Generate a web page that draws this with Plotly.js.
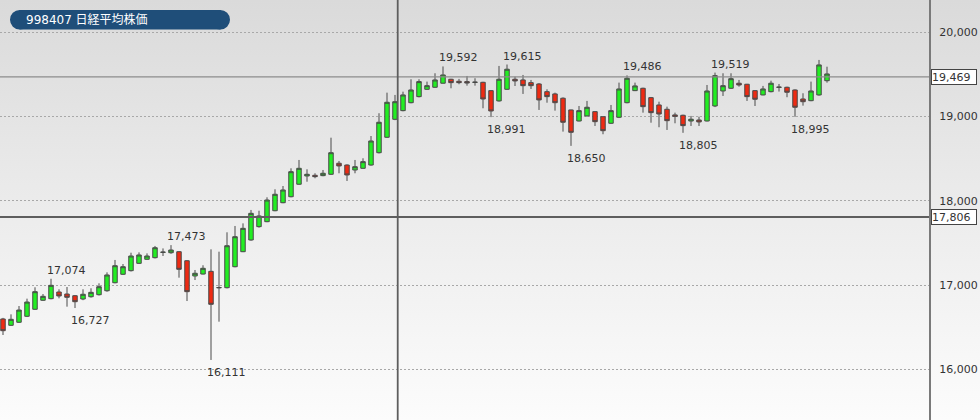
<!DOCTYPE html>
<html>
<head>
<meta charset="utf-8">
<script src="https://cdn.plot.ly/plotly-3.0.1.min.js"></script>
<style>
  html, body { margin: 0; padding: 0; }
  #chart { width: 980px; height: 420px; background: linear-gradient(to bottom, #dadada 0%, #ececec 50%, #fcfcfc 100%); }
</style>
</head>
<body>
<div id="chart"></div>
<script>
// ---- data ----
const titleText = "998407 日経平均株価";
const openV = [16597,16522,16558,16629,16712,16819,16838,16917,16893,16873,16834,16861,16885,16932,17027,17127,17170,17257,17305,17324,
  17386,17383,17395,17288,17107,17130,17162,16966,16968,17217,17395,17534,17692,17751,17881,17976,18047,18195,18293,18301,
  18297,18313,18444,18423,18364,18384,18423,18569,18752,18965,19068,19162,19234,19321,19345,19393,19440,19416,19412,19402,
  19404,19305,19183,19321,19440,19432,19400,19384,19293,19266,19215,19076,18945,19005,19056,18996,18918,18989,19162,19305,
  19333,19222,19135,19084,19017,19013,18945,18957,18945,19123,19301,19333,19393,19381,19305,19254,19293,19343,19345,19313,
  19206,19186,19254,19423];
const highV = [16610,16652,16751,16838,16973,16893,17074,16949,16976,16880,16949,16961,17020,17150,17297,17249,17383,17387,17375,17463,
  17434,17473,17400,17295,17178,17234,17423,17395,17625,17700,17731,17890,17881,18040,18135,18174,18384,18483,18372,18325,
  18364,18747,18471,18430,18483,18503,18767,19037,19281,19254,19293,19440,19440,19412,19511,19592,19445,19444,19479,19452,
  19410,19310,19598,19615,19471,19491,19432,19395,19321,19281,19225,19080,19123,19183,19060,19000,19135,19400,19486,19400,
  19340,19230,19174,19115,19044,19020,19005,18996,19372,19519,19511,19511,19432,19385,19310,19361,19423,19384,19352,19320,
  19274,19412,19669,19589];
const lowV = [16407,16515,16550,16620,16705,16812,16830,16842,16743,16727,16820,16850,16875,16920,17020,17120,17160,17250,17300,17315,
  17344,17370,17087,16810,17059,17125,16111,16565,16960,17210,17390,17525,17680,17745,17875,17970,18040,18190,18225,18266,
  18290,18305,18325,18234,18325,18380,18415,18560,18745,18955,19060,19155,19225,19315,19340,19390,19333,19381,19364,19364,
  19096,18991,19175,19315,19360,19266,19325,19076,19162,19068,18819,18650,18940,19000,18886,18788,18910,18980,19155,19300,
  19044,18925,18871,18839,18918,18805,18886,18886,18940,19110,19242,19325,19352,19183,19123,19250,19285,19294,19227,18995,
  19127,19180,19245,19400];
const closeV = [16458,16593,16703,16798,16921,16866,16996,16870,16854,16802,16890,16913,16980,17119,17229,17217,17344,17356,17344,17442,
  17390,17415,17186,16921,17139,17198,16771,16970,17466,17573,17672,17850,17819,18008,18076,18127,18344,18384,18313,18285,
  18325,18569,18412,18305,18403,18463,18708,18930,19167,19174,19254,19313,19412,19364,19432,19491,19400,19400,19396,19406,
  19206,19064,19440,19559,19420,19364,19364,19195,19234,19162,18930,18811,19068,19108,18937,18830,19068,19325,19452,19361,
  19115,19044,19028,18949,19001,18890,18966,18934,19301,19483,19364,19447,19372,19234,19203,19325,19393,19347,19286,19108,
  19174,19301,19610,19503];
const highLabelIdx = [6, 21, 55, 63, 78, 89];
const lowLabelIdx = [9, 26, 61, 71, 85, 99];
const yTickVals = [16000, 17000, 18000, 19000, 20000];
const lastPrice = 19469;
const crossPrice = 17806;
const crossIdx = 49.34;

// ---- build ----
const xIdx = openV.map((_, i) => i);
const fmt = v => v.toLocaleString('en-US');
const plotW = 929, plotH = 420;
const px = v => v / plotW;
const py = v => 1 - v / plotH;

const trace = {
  type: 'candlestick', x: xIdx, open: openV, high: highV, low: lowV, close: closeV,
  increasing: { line: { color: '#4a4a4a', width: 1 }, fillcolor: '#22ee22' },
  decreasing: { line: { color: '#4a4a4a', width: 1 }, fillcolor: '#ee2a12' },
  whiskerwidth: 0, hoverinfo: 'skip', showlegend: false
};

const labelFont = { family: 'DejaVu Sans, Verdana, sans-serif', size: 11, color: '#333' };
const annotations = [];
highLabelIdx.forEach(i => annotations.push({
  x: i, y: highV[i], xref: 'x', yref: 'y', text: fmt(highV[i]), showarrow: false,
  xanchor: 'left', yanchor: 'bottom', xshift: -6, yshift: 0, font: labelFont
}));
lowLabelIdx.forEach(i => annotations.push({
  x: i, y: lowV[i], xref: 'x', yref: 'y', text: fmt(lowV[i]), showarrow: false,
  xanchor: 'left', yanchor: 'top', xshift: -6, yshift: -4, font: labelFont
}));
[lastPrice, crossPrice].forEach(p => annotations.push({
  x: 931.5 / plotW, y: p, xref: 'paper', yref: 'y', text: fmt(p), showarrow: false,
  xanchor: 'left', yanchor: 'middle', bgcolor: '#ffffff', bordercolor: '#444', borderwidth: 1,
  borderpad: 0, width: 44, height: 14, align: 'left', font: labelFont
}));
annotations.push({
  x: px(24), y: py(19.7), xref: 'paper', yref: 'paper', text: titleText, showarrow: false,
  xanchor: 'left', yanchor: 'middle', font: { family: 'DejaVu Sans, Noto Sans CJK JP, sans-serif', size: 12, color: '#ffffff' }
});

const pillColor = '#1f4e79';
const shapes = [
  { type: 'line', xref: 'paper', x0: 0, x1: 1, yref: 'y', y0: lastPrice, y1: lastPrice, line: { color: '#8c8c8c', width: 1.2 } },
  { type: 'line', xref: 'paper', x0: 0, x1: 1, yref: 'y', y0: crossPrice, y1: crossPrice, line: { color: '#5e5e5e', width: 2 } },
  { type: 'line', xref: 'x', x0: crossIdx, x1: crossIdx, yref: 'paper', y0: 0, y1: 1, line: { color: '#5e5e5e', width: 1.8 } },
  { type: 'circle', xref: 'paper', yref: 'paper', x0: px(10), x1: px(29.5), y0: py(29.5), y1: py(10), fillcolor: pillColor, line: { width: 0 } },
  { type: 'circle', xref: 'paper', yref: 'paper', x0: px(210.5), x1: px(230), y0: py(29.5), y1: py(10), fillcolor: pillColor, line: { width: 0 } },
  { type: 'rect', xref: 'paper', yref: 'paper', x0: px(19.5), x1: px(220.5), y0: py(29.5), y1: py(10), fillcolor: pillColor, line: { width: 0 } }
];

const layout = {
  width: 980, height: 420,
  margin: { l: 0, r: 980 - plotW, t: 0, b: 0, pad: 0 },
  paper_bgcolor: 'rgba(0,0,0,0)', plot_bgcolor: 'rgba(0,0,0,0)',
  boxgap: 0.2,
  showlegend: false,
  xaxis: { range: [-0.375, plotW / 8 - 0.375], showgrid: false, zeroline: false, showticklabels: false,
           showline: false, ticks: '', rangeslider: { visible: false }, fixedrange: true },
  yaxis: { range: [15399, 20380], side: 'right', tickvals: yTickVals, ticktext: yTickVals.map(fmt),
           showgrid: true, gridcolor: '#a8a8a8', gridwidth: 1, griddash: '2px,2px', zeroline: false,
           showline: true, linecolor: '#7a7a7a', linewidth: 2, ticks: '', ticklabelstandoff: 6,
           tickfont: labelFont, fixedrange: true },
  shapes: shapes,
  annotations: annotations
};

Plotly.newPlot('chart', [trace], layout, { displayModeBar: false, staticPlot: true });
</script>
</body>
</html>
